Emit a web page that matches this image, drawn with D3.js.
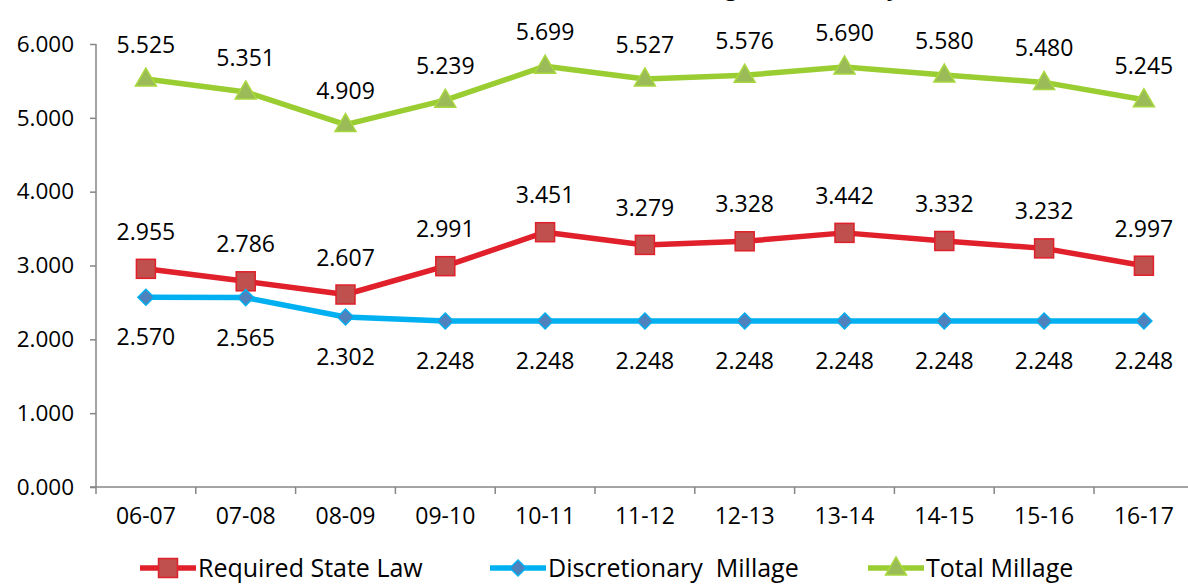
<!DOCTYPE html>
<html><head><meta charset="utf-8">
<script src="https://cdn.jsdelivr.net/npm/d3@7"></script>
<style>
html,body{margin:0;padding:0;background:#fff;}
svg{display:block;font-family:"Open Sans",sans-serif;}
.leg{white-space:pre;}
</style></head>
<body><svg id="c" width="1188" height="586"></svg>
<script>
const title = "Millage Rate History";
const categories = ["06-07","07-08","08-09","09-10","10-11","11-12","12-13","13-14","14-15","15-16","16-17"];
const requiredStateLaw = [2.955,2.786,2.607,2.991,3.451,3.279,3.328,3.442,3.332,3.232,2.997];
const discretionary = [2.570,2.565,2.302,2.248,2.248,2.248,2.248,2.248,2.248,2.248,2.248];
const totalMillage = [5.525,5.351,4.909,5.239,5.699,5.527,5.576,5.690,5.580,5.480,5.245];
const yTicks = [0,1,2,3,4,5,6];
const seriesNames = ["Required State Law","Discretionary  Millage","Total Millage"];

const svg = d3.select("#c");
const x = d3.scaleBand().domain(categories).range([96, 96 + 11*99.8]);
const y = d3.scaleLinear().domain([0,6]).range([487, 44]);
const fmt = d3.format(".3f");

// title (mostly clipped above, as in reference)
svg.append("text").attr("x", 784).attr("y", -5).attr("text-anchor","middle")
  .attr("font-size", 23).attr("font-weight","bold").attr("fill","#000").text(title);

// axes
const yAxis = svg.append("g").attr("transform","translate(96,0)")
  .call(d3.axisLeft(y).tickValues(yTicks).tickFormat(fmt).tickSize(6).tickPadding(16));
yAxis.select(".domain").attr("stroke","#868686").attr("stroke-width",1.5).attr("d","M0,44V487");
yAxis.selectAll(".tick line").attr("stroke","#868686").attr("stroke-width",1.5);
yAxis.selectAll("text").attr("font-size",22.5).attr("fill","#000").attr("font-family","Open Sans");

const xAxis = svg.append("g").attr("transform","translate(0,487)")
  .call(d3.axisBottom(x).tickSize(0).tickPadding(21));
xAxis.select(".domain").attr("stroke","#868686").attr("stroke-width",1.5).attr("d","M90,0H1188");
xAxis.selectAll("text").attr("font-size",23).attr("fill","#000").attr("font-family","Open Sans");
// category boundary ticks
svg.append("g").selectAll("line").data(categories).join("line")
  .attr("x1", d => x(d)).attr("x2", d => x(d)).attr("y1",487).attr("y2",494)
  .attr("stroke","#868686").attr("stroke-width",1.5);

const cx = d => x(d) + x.bandwidth()/2;
const series = [
  {vals: requiredStateLaw, line:"#E0202A", fill:"#C0504D", stroke:"#E0202A", marker:"square", labelDy:-37},
  {vals: discretionary, line:"#00B0F0", fill:"#4F81BD", stroke:"#00B0F0", marker:"diamond", labelDy:40},
  {vals: totalMillage, line:"#9ACD32", fill:"#9BBB59", stroke:"#A8D83C", marker:"triangle", labelDy:-34}
];

function drawMarker(g, type, px, py, s) {
  if (type === "square") {
    g.append("rect").attr("x", px-9.5).attr("y", py-9.5).attr("width",19).attr("height",19)
      .attr("fill", s.fill).attr("stroke", s.stroke).attr("stroke-width",1.5);
  } else if (type === "diamond") {
    g.append("path").attr("d", `M${px},${py-8}L${px+8},${py}L${px},${py+8}L${px-8},${py}Z`)
      .attr("fill", s.fill).attr("stroke", s.stroke).attr("stroke-width",1.5);
  } else {
    g.append("path").attr("d", `M${px},${py-11}L${px+10.5},${py+7}L${px-10.5},${py+7}Z`)
      .attr("fill", s.fill).attr("stroke", s.stroke).attr("stroke-width",1.5);
  }
}

const line = d3.line().x((d,i) => cx(categories[i])).y(d => y(d));
series.forEach(s => {
  svg.append("path").attr("d", line(s.vals)).attr("fill","none")
    .attr("stroke", s.line).attr("stroke-width",5.5).attr("stroke-linejoin","round");
});
series.forEach(s => {
  const g = svg.append("g");
  s.vals.forEach((v,i) => drawMarker(g, s.marker, cx(categories[i]), y(v), s));
  svg.append("g").selectAll("text").data(s.vals).join("text")
    .attr("x",(d,i) => cx(categories[i])).attr("y", d => y(d) + s.labelDy)
    .attr("dy","0.35em").attr("text-anchor","middle").attr("font-size",23).attr("fill","#000")
    .text(d => fmt(d));
});

// legend
const legX = [140, 490, 868];
series.forEach((s,i) => {
  const g = svg.append("g");
  g.append("line").attr("x1", legX[i]).attr("x2", legX[i]+56).attr("y1",568).attr("y2",568)
    .attr("stroke", s.line).attr("stroke-width",5.5);
  drawMarker(g, s.marker, legX[i]+28, 568, s);
  g.append("text").attr("class","leg").attr("xml:space","preserve")
    .attr("x", legX[i]+58).attr("y",568).attr("dy","0.35em")
    .attr("font-size",25).attr("fill","#000").text(seriesNames[i]);
});
</script></body></html>
